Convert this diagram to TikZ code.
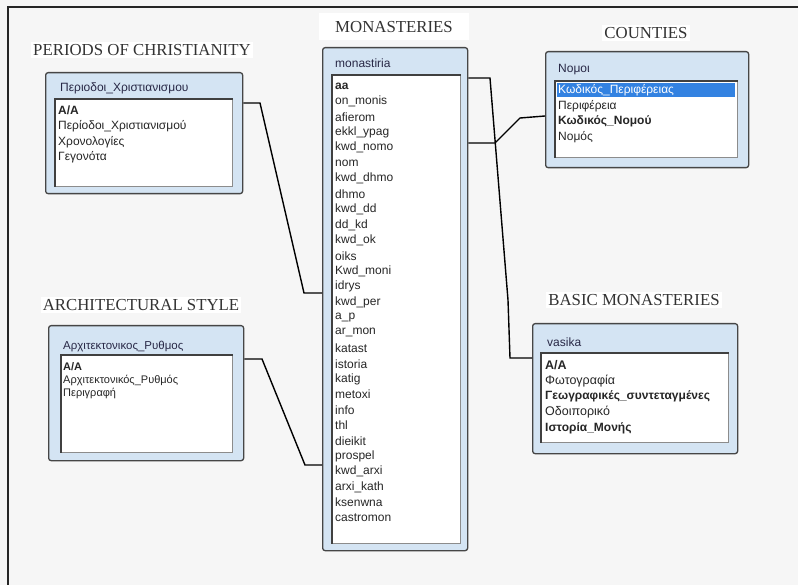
\documentclass[tikz,border=0pt]{standalone}
\usepackage{fontspec}
\setmainfont{Liberation Serif}
\setsansfont{Liberation Sans}
\definecolor{bgc}{RGB}{246,246,246}
\definecolor{tblfill}{RGB}{212,228,243}
\definecolor{tbledge}{RGB}{70,70,70}
\definecolor{selblue}{RGB}{51,130,225}
\definecolor{hdrtext}{RGB}{40,40,70}
\begin{document}
\begin{tikzpicture}[x=1pt,y=-1pt,
  ttl/.style={font=\fontsize{16.8}{18}\selectfont, text=black!80, fill=white, inner sep=2pt},
  tbl/.style={draw=tbledge, fill=tblfill, line width=1.3pt, rounded corners=2.5pt, inner sep=0pt, anchor=north west},
  lst/.style={draw=black!45, fill=white, line width=0.6pt, inner sep=0pt, anchor=north west},
  lstedge/.style={draw=black!75, line width=1.2pt},
  hdr/.style={font=\sffamily\fontsize{12}{14}\selectfont, text=hdrtext, inner sep=0pt, anchor=west},
  fld/.style={font=\sffamily\fontsize{12}{14}\selectfont, text=black!85, inner sep=0pt, anchor=west},
  fldsm/.style={fld, font=\sffamily\fontsize{11}{13}\selectfont},
  fldmd/.style={fld, font=\sffamily\fontsize{12.5}{14}\selectfont},
  conn/.style={draw=black, line width=1.4pt, line join=miter}
]
\useasboundingbox (0,0) rectangle (798,585);
\fill[bgc] (0,0) rectangle (798,585);
\draw[line width=1.5pt, black!85] (8,585) -- (8,7) -- (798,7);

% titles
\node[ttl, anchor=west] (tper) at (31,50) {PERIODS OF CHRISTIANITY};
\node[ttl, minimum width=150pt, minimum height=27pt] (tmon) at (394,27) {MONASTERIES};
\node[ttl] (tcou) at (646,33) {COUNTIES};
\node[ttl] (tarc) at (141,305) {ARCHITECTURAL STYLE};
\node[ttl] (tbas) at (634,300) {BASIC MONASTERIES};

% ---------- Periods table
\node[tbl, minimum width=197pt, minimum height=121pt] (per) at (45,72) {};
\node[hdr] (perh) at (60,88) {Περιοδοι\_Χριστιανισμου};
\node[lst, minimum width=177pt, minimum height=87pt] (perl) at (55,99) {};
\draw[lstedge] (perl.south west) -- (perl.north west) -- (perl.north east);
\node[fld] (pf1) at (58,110) {\textbf{Α/Α}};
\node[fld] (pf2) at (58,126) {Περίοδοι\_Χριστιανισμού};
\node[fld] (pf3) at (58,142) {Χρονολογίες};
\node[fld] (pf4) at (58,157) {Γεγονότα};

% ---------- Architectural style table
\node[tbl, minimum width=195pt, minimum height=135pt] (arc) at (48,325) {};
\node[hdr, font=\sffamily\fontsize{11.5}{13}\selectfont] (arch) at (63,347) {Αρχιτεκτονικος\_Ρυθμος};
\node[lst, minimum width=171pt, minimum height=97pt] (arcl) at (61,355) {};
\draw[lstedge] (arcl.south west) -- (arcl.north west) -- (arcl.north east);
\node[fldsm] (af1) at (63,367) {\textbf{Α/Α}};
\node[fldsm] (af2) at (63,380) {Αρχιτεκτονικός\_Ρυθμός};
\node[fldsm] (af3) at (63,393) {Περιγραφή};

% ---------- Monasteries table
\node[tbl, minimum width=145pt, minimum height=503pt] (mon) at (322,47) {};
\node[hdr] (monh) at (335,63) {monastiria};
\node[lst, minimum width=128pt, minimum height=468pt] (monl) at (332,75) {};
\draw[lstedge] (monl.south west) -- (monl.north west) -- (monl.north east);
\foreach \t [count=\i] in {{\textbf{aa}}, on\_monis, afierom, ekkl\_ypag, kwd\_nomo, nom, kwd\_dhmo, dhmo, kwd\_dd, dd\_kd, kwd\_ok, oiks, Kwd\_moni, idrys, kwd\_per, a\_p, ar\_mon, katast, istoria, katig, metoxi, info, thl, dieikit, prospel, kwd\_arxi, arxi\_kath, ksenwna, castromon}
  \node[fld] (m\i) at (335,{86+15.43*(\i-1)}) {\t};

% ---------- Counties table
\node[tbl, minimum width=203pt, minimum height=116pt] (cou) at (545,51) {};
\node[hdr] (couh) at (558,70) {Νομοι};
\node[lst, minimum width=182pt, minimum height=76pt] (coul) at (555,81) {};
\fill[selblue] (557,83) rectangle (735,97);
\draw[lstedge] (coul.south west) -- (coul.north west) -- (coul.north east);
\node[fld, text=white] (cf1) at (558,90) {Κωδικός\_Περιφέρειας};
\node[fld] (cf2) at (558,106) {Περιφέρεια};
\node[fld] (cf3) at (558,121) {\textbf{Κωδικός\_Νομού}};
\node[fld] (cf4) at (558,137) {Νομός};

% ---------- Basic monasteries table
\node[tbl, minimum width=205pt, minimum height=130pt] (bas) at (532,323) {};
\node[hdr] (bash) at (547,342) {vasika};
\node[lst, minimum width=187pt, minimum height=89pt] (basl) at (541,353) {};
\draw[lstedge] (basl.south west) -- (basl.north west) -- (basl.north east);
\node[fldmd] (bf1) at (545,365) {\textbf{Α/Α}};
\node[fldmd] (bf2) at (545,381) {Φωτογραφία};
\node[fldmd, font=\sffamily\bfseries\fontsize{12}{14}\selectfont] (bf3) at (545,396) {Γεωγραφικές\_συντεταγμένες};
\node[fldmd] (bf4) at (545,412) {Οδοιπορικό};
\node[fldmd, font=\sffamily\bfseries\fontsize{12}{14}\selectfont] (bf5) at (545,428) {Ιστορία\_Μονής};

% ---------- connectors
\draw[conn] (per.east |- 0,103) -- (260,103) -- (304,293) -- (mon.west |- 0,293);
\draw[conn] (arc.east |- 0,359) -- (262,359) -- (305,465) -- (mon.west |- 0,465);
\draw[conn] (mon.east |- 0,78) -- (490,78) -- (508,300) -- (510,358) -- (bas.west |- 0,358);
\draw[conn] (mon.east |- 0,143) -- (495,143) -- (520,118) -- (cou.west |- 0,116);
\end{tikzpicture}
\end{document}
